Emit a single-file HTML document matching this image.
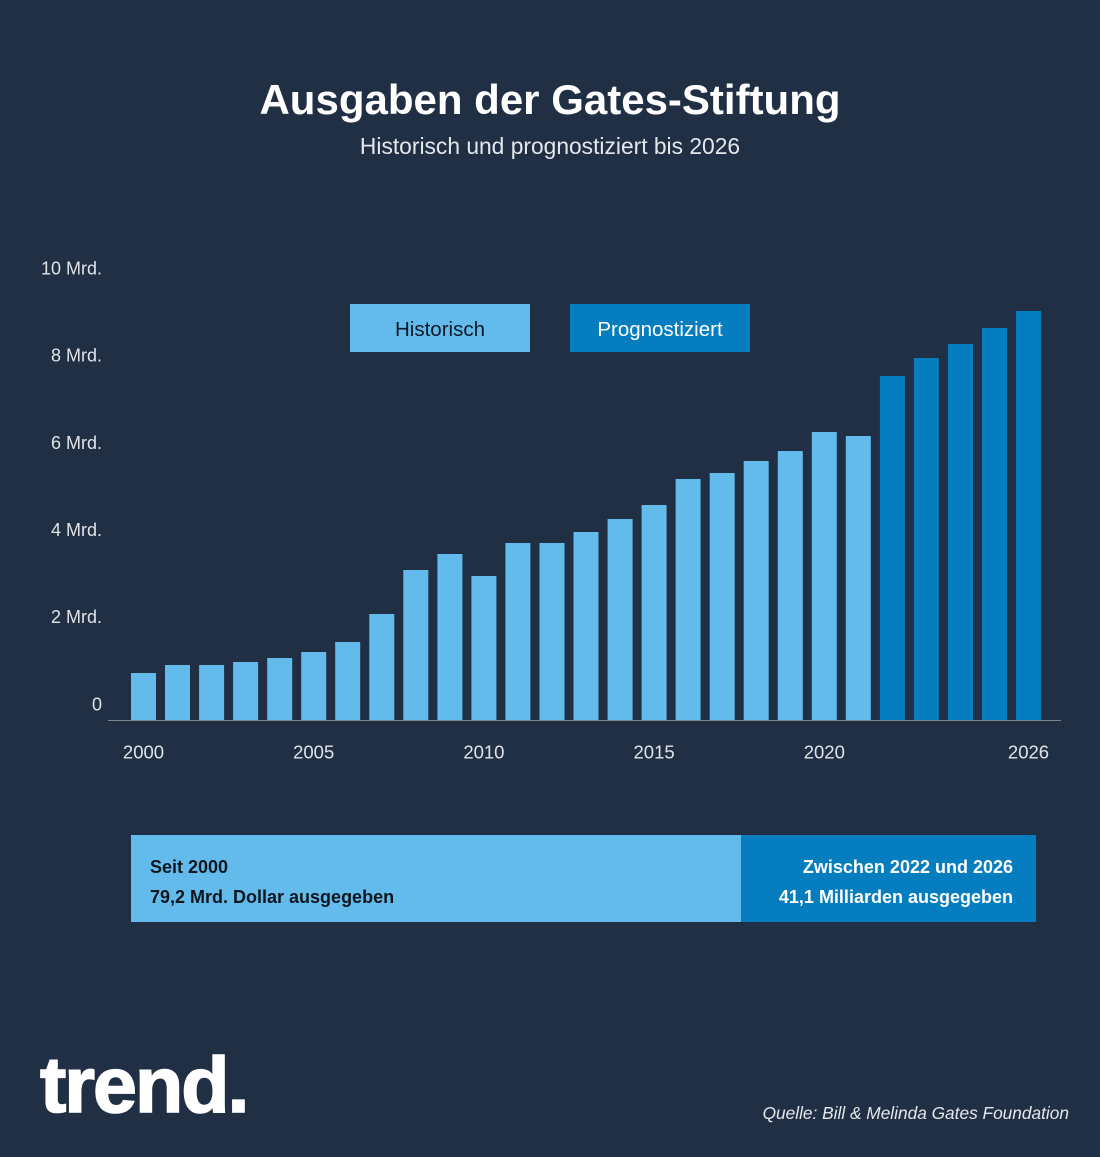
<!DOCTYPE html>
<html>
<head>
<meta charset="utf-8">
<style>
  html,body{margin:0;padding:0;background:#212f44;}
  body{width:1100px;height:1157px;overflow:hidden;}
  svg{display:block;}
  text{font-family:"Liberation Sans", sans-serif;}
</style>
</head>
<body>
<svg width="1100" height="1157" viewBox="0 0 1100 1157" xmlns="http://www.w3.org/2000/svg">
  <rect x="0" y="0" width="1100" height="1157" fill="#212f44"/>

  <!-- Title -->
  <text x="550" y="114" text-anchor="middle" font-size="42" font-weight="bold" fill="#ffffff">Ausgaben der Gates-Stiftung</text>
  <text x="550" y="154" text-anchor="middle" font-size="22.8" fill="#e4e7ec">Historisch und prognostiziert bis 2026</text>

  <!-- Y axis labels -->
  <g font-size="18" fill="#dfe3e8" text-anchor="end">
    <text x="102" y="274.5">10 Mrd.</text>
    <text x="102" y="361.5">8 Mrd.</text>
    <text x="102" y="449">6 Mrd.</text>
    <text x="102" y="536">4 Mrd.</text>
    <text x="102" y="623">2 Mrd.</text>
    <text x="102" y="710.5">0</text>
  </g>

  <!-- Legend -->
  <rect x="350" y="304" width="180" height="48" fill="#62bbea"/>
  <text x="440" y="336" text-anchor="middle" font-size="20.5" fill="#111827">Historisch</text>
  <rect x="570" y="304" width="180" height="48" fill="#067dbf"/>
  <text x="660" y="336" text-anchor="middle" font-size="20.5" fill="#ffffff">Prognostiziert</text>

  <!-- Bars -->
  <g fill="#62bbea">
    <rect x="131" y="673" width="25" height="47"/>
    <rect x="165" y="665" width="25" height="55"/>
    <rect x="199.1" y="665" width="25" height="55"/>
    <rect x="233.1" y="662" width="25" height="58"/>
    <rect x="267.2" y="658" width="25" height="62"/>
    <rect x="301.2" y="652" width="25" height="68"/>
    <rect x="335.2" y="642" width="25" height="78"/>
    <rect x="369.3" y="614" width="25" height="106"/>
    <rect x="403.3" y="570" width="25" height="150"/>
    <rect x="437.4" y="554" width="25" height="166"/>
    <rect x="471.4" y="576" width="25" height="144"/>
    <rect x="505.4" y="543" width="25" height="177"/>
    <rect x="539.5" y="543" width="25" height="177"/>
    <rect x="573.5" y="532" width="25" height="188"/>
    <rect x="607.6" y="519" width="25" height="201"/>
    <rect x="641.6" y="505" width="25" height="215"/>
    <rect x="675.6" y="479" width="25" height="241"/>
    <rect x="709.7" y="473" width="25" height="247"/>
    <rect x="743.7" y="461" width="25" height="259"/>
    <rect x="777.8" y="451" width="25" height="269"/>
    <rect x="811.8" y="432" width="25" height="288"/>
    <rect x="845.8" y="436" width="25" height="284"/>
  </g>
  <g fill="#067dbf">
    <rect x="879.9" y="376" width="25" height="344"/>
    <rect x="913.9" y="358" width="25" height="362"/>
    <rect x="948" y="344" width="25" height="376"/>
    <rect x="982" y="328" width="25" height="392"/>
    <rect x="1016" y="311" width="25" height="409"/>
  </g>

  <!-- Axis line -->
  <line x1="108" y1="720.5" x2="1061" y2="720.5" stroke="#7d838c" stroke-width="1"/>

  <!-- X labels -->
  <g font-size="18.5" fill="#dfe3e8" text-anchor="middle">
    <text x="143.5" y="758.5">2000</text>
    <text x="313.7" y="758.5">2005</text>
    <text x="483.9" y="758.5">2010</text>
    <text x="654.1" y="758.5">2015</text>
    <text x="824.3" y="758.5">2020</text>
    <text x="1028.5" y="758.5">2026</text>
  </g>

  <!-- Summary boxes -->
  <rect x="131" y="835" width="610" height="87" fill="#62bbea"/>
  <rect x="741" y="835" width="295" height="87" fill="#067dbf"/>
  <g font-size="18" font-weight="bold">
    <text x="150" y="873" fill="#0f1620">Seit 2000</text>
    <text x="150" y="903" fill="#0f1620">79,2 Mrd. Dollar ausgegeben</text>
    <text x="1013" y="873" fill="#ffffff" text-anchor="end">Zwischen 2022 und 2026</text>
    <text x="1013" y="903" fill="#ffffff" text-anchor="end">41,1 Milliarden ausgegeben</text>
  </g>

  <!-- Logo -->
  <text x="40" y="1112" font-size="79" font-weight="bold" fill="#ffffff" stroke="#ffffff" stroke-width="1.6" letter-spacing="-2">trend.</text>

  <!-- Source -->
  <text x="1069" y="1119" text-anchor="end" font-size="17.3" font-style="italic" fill="#e4e7ec">Quelle: Bill &amp; Melinda Gates Foundation</text>
</svg>
</body>
</html>
